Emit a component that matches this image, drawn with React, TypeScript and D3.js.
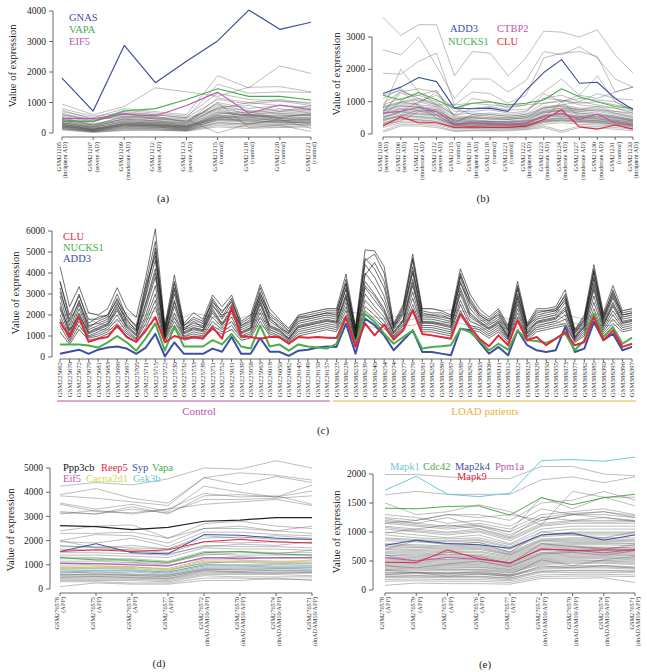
import React from 'react';
import * as d3 from 'd3';

const SERIF = '"Liberation Serif","Times New Roman","DejaVu Serif",serif';
const BLUE = '#3d4f9f';
const GREEN = '#4aae4a';
const MAGENTA = '#c055b0';
const RED = '#e0283a';
const CYAN = '#6cc8d8';
const YELLOW = '#d8d450';

// ---------------- Panel (a)
const aSamples = ['GSM21205', 'GSM21207', 'GSM21209', 'GSM21212', 'GSM21213', 'GSM21215', 'GSM21218', 'GSM21220', 'GSM21221'];
const aGroups = ['(incipient AD)', '(severe AD)', '(moderate AD)', '(severe AD)', '(severe AD)', '(control)', '(control)', '(control)', '(control)'];
const aTicks = [0, 1000, 2000, 3000, 4000];
const aGNAS = [1800, 720, 2870, 1650, 2350, 3020, 4030, 3400, 3630];
const aVAPA = [380, 380, 720, 800, 1100, 1450, 1200, 1200, 1080];
const aEIF5 = [480, 470, 620, 560, 900, 1340, 650, 920, 760];
const aBackground = [
  [950, 600, 870, 1480, 1350, 1200, 1500, 1520, 1350],
  [700, 500, 800, 700, 600, 1880, 1480, 2200, 1950],
  [800, 550, 650, 600, 500, 1600, 1300, 1350, 1330],
  [650, 400, 600, 550, 350, 1150, 1000, 1100, 950],
  [600, 450, 500, 480, 450, 0, 300, 400, 300],
  [500, 300, 450, 400, 300, 1000, 800, 900, 850],
  [450, 250, 400, 380, 250, 850, 900, 700, 900],
  [400, 200, 350, 350, 280, 700, 600, 650, 700],
  [350, 150, 300, 320, 200, 600, 500, 550, 600],
  [300, 100, 250, 250, 150, 550, 450, 500, 500],
  [250, 80, 200, 200, 120, 450, 400, 400, 450],
  [200, 60, 180, 180, 100, 400, 350, 350, 400],
  [180, 50, 150, 150, 90, 350, 300, 300, 350],
  [150, 40, 120, 120, 80, 300, 250, 250, 300],
  [120, 30, 100, 100, 70, 250, 200, 200, 250],
  [280, 120, 330, 280, 220, 500, 600, 420, 480],
  [320, 180, 380, 300, 240, 620, 700, 480, 520],
  [220, 90, 260, 230, 170, 480, 520, 380, 420],
  [160, 70, 230, 190, 140, 420, 440, 330, 360],
  [550, 350, 700, 600, 500, 1100, 950, 1050, 1000],
  [750, 450, 550, 520, 480, 800, 1000, 900, 800],
  [420, 380, 650, 450, 400, 950, 700, 800, 650],
  [380, 220, 420, 350, 320, 750, 550, 600, 600],
  [260, 130, 280, 250, 200, 650, 580, 500, 650],
  [100, 20, 80, 90, 60, 200, 150, 180, 200],
  [500, 250, 550, 500, 400, 900, 600, 700, 750],
  [330, 200, 480, 420, 350, 1000, 180, 250, 50],
  [600, 380, 750, 650, 550, 1300, 1100, 1050, 900],
  [230, 100, 300, 260, 180, 580, 300, 450, 150],
  [450, 280, 520, 470, 380, 780, 650, 750, 780],
  [210, 110, 240, 220, 160, 500, 480, 420, 380],
  [270, 160, 310, 270, 210, 560, 620, 470, 460],
  [340, 190, 360, 330, 260, 680, 560, 580, 560],
  [190, 80, 210, 200, 130, 440, 380, 360, 330],
  [130, 60, 160, 140, 100, 330, 290, 280, 270],
  [400, 260, 450, 400, 330, 820, 740, 640, 620],
  [300, 140, 290, 300, 230, 520, 540, 520, 580],
  [240, 120, 260, 240, 190, 470, 420, 470, 430],
];

// ---------------- Panel (b)
const bSamples = ['GSM21203', 'GSM21206', 'GSM21211', 'GSM21212', 'GSM21215', 'GSM21216', 'GSM21218', 'GSM21221', 'GSM21222', 'GSM21223', 'GSM21224', 'GSM21227', 'GSM21230', 'GSM21231', 'GSM21233'];
const bGroups = ['(severe AD)', '(severe AD)', '(moderate AD)', '(severe AD)', '(control)', '(incipient AD)', '(control)', '(control)', '(incipient AD)', '(moderate AD)', '(moderate AD)', '(moderate AD)', '(moderate AD)', '(control)', '(incipient AD)'];
const bTicks = [0, 1000, 2000, 3000];
const bADD3 = [1250, 1450, 1750, 1620, 800, 780, 800, 700, 1350, 1900, 2300, 1570, 1600, 1100, 760];
const bNUCKS1 = [1200, 1050, 1280, 1050, 800, 950, 1000, 900, 950, 1050, 1400, 1150, 1000, 850, 780];
const bCTBP2 = [650, 700, 830, 700, 300, 350, 320, 300, 320, 550, 650, 450, 620, 350, 280];
const bCLU = [250, 530, 350, 350, 200, 220, 200, 200, 250, 450, 750, 220, 150, 280, 150];
const bBackground = [
  [3600, 3050, 3380, 3380, 1800, 2550, 2500, 1800, 2350, 3180, 3150, 3000, 3220, 2450, 1880],
  [2600, 2450, 3000, 2100, 1100, 1700, 1700, 1300, 1650, 2550, 2450, 2700, 2350, 1700, 1450],
  [1880, 1850, 2250, 2500, 900, 1300, 1250, 950, 1200, 2350, 2500, 2550, 2400, 1300, 1450],
  [800, 2000, 1300, 900, 600, 1100, 1000, 800, 900, 1300, 1700, 1200, 1800, 1000, 700],
  [1100, 1400, 1000, 1200, 800, 600, 650, 600, 650, 1250, 1000, 1200, 1100, 1300, 1450],
  [950, 1300, 1400, 1300, 700, 700, 750, 650, 700, 1100, 1200, 1000, 900, 800, 650],
  [900, 1100, 1200, 1000, 600, 650, 600, 550, 600, 950, 1050, 900, 850, 700, 600],
  [850, 1000, 1100, 950, 550, 550, 500, 500, 550, 850, 900, 800, 800, 650, 550],
  [800, 950, 950, 1300, 500, 500, 450, 450, 500, 800, 850, 750, 700, 600, 500],
  [750, 900, 900, 850, 450, 450, 400, 400, 450, 750, 800, 700, 650, 550, 450],
  [700, 850, 850, 800, 400, 400, 380, 380, 400, 700, 750, 650, 600, 500, 420],
  [650, 800, 800, 750, 380, 380, 350, 350, 380, 650, 700, 600, 550, 480, 400],
  [600, 750, 750, 700, 350, 350, 330, 320, 350, 600, 650, 550, 520, 450, 380],
  [550, 700, 700, 650, 330, 330, 300, 300, 330, 550, 600, 520, 480, 420, 350],
  [500, 650, 650, 600, 300, 300, 280, 280, 300, 500, 550, 480, 450, 400, 330],
  [450, 600, 600, 550, 280, 280, 260, 260, 280, 450, 500, 450, 420, 380, 300],
  [400, 550, 550, 500, 250, 250, 240, 240, 260, 420, 480, 420, 400, 350, 280],
  [350, 500, 500, 450, 220, 230, 220, 220, 240, 400, 450, 400, 380, 330, 260],
  [300, 450, 450, 400, 200, 200, 200, 200, 220, 380, 420, 380, 350, 300, 240],
  [250, 400, 400, 350, 180, 180, 180, 180, 200, 350, 400, 350, 320, 280, 220],
  [200, 350, 350, 300, 150, 160, 150, 160, 180, 300, 350, 300, 280, 250, 200],
  [100, 300, 300, 250, 100, 120, 120, 130, 150, 250, 100, 250, 230, 200, 150],
  [1200, 1350, 1100, 900, 900, 950, 900, 850, 900, 950, 1000, 1100, 1050, 1000, 750],
  [700, 1250, 1200, 1350, 550, 800, 850, 750, 750, 1100, 1050, 950, 1000, 900, 800],
  [600, 1000, 900, 600, 450, 550, 600, 550, 600, 800, 900, 1000, 1250, 1100, 1050],
  [500, 700, 1000, 850, 350, 600, 550, 500, 550, 700, 800, 750, 850, 800, 700],
  [450, 550, 750, 700, 400, 500, 500, 450, 500, 650, 750, 700, 750, 700, 650],
  [300, 400, 700, 600, 250, 350, 350, 300, 350, 550, 600, 500, 550, 500, 400],
  [650, 1350, 850, 500, 300, 400, 380, 350, 400, 500, 1000, 550, 600, 550, 450],
  [50, 250, 250, 200, 80, 100, 100, 100, 130, 200, 50, 200, 180, 150, 100],
  [620, 780, 720, 680, 320, 340, 310, 300, 340, 580, 620, 540, 500, 430, 360],
  [520, 680, 620, 580, 290, 310, 290, 280, 310, 520, 560, 500, 470, 390, 310],
  [420, 580, 530, 480, 260, 270, 250, 250, 270, 440, 500, 440, 410, 360, 290],
  [330, 480, 430, 380, 210, 220, 210, 210, 230, 390, 430, 390, 360, 310, 250],
  [720, 880, 820, 760, 410, 420, 390, 380, 420, 680, 720, 640, 600, 520, 430],
  [820, 980, 1050, 900, 480, 500, 470, 460, 500, 800, 860, 760, 740, 640, 520],
];

// ---------------- Panel (c)
const cControl = ['GSM225662', 'GSM225670', 'GSM225672', 'GSM225679', 'GSM225681', 'GSM225683', 'GSM225696', 'GSM225697', 'GSM225705', 'GSM225711', 'GSM225715', 'GSM225722', 'GSM225730', 'GSM225732', 'GSM225733', 'GSM225739', 'GSM225751', 'GSM225752', 'GSM225931', 'GSM225939', 'GSM225958', 'GSM225963', 'GSM226018', 'GSM226050', 'GSM226082', 'GSM226145', 'GSM226149', 'GSM226150', 'GSM226157'];
const cLoad = ['GSM388225', 'GSM388228', 'GSM388233', 'GSM388239', 'GSM388240', 'GSM388254', 'GSM388274', 'GSM388277', 'GSM388279', 'GSM388281', 'GSM388282', 'GSM388286', 'GSM388287', 'GSM388289', 'GSM388292', 'GSM388303', 'GSM388306', 'GSM388311', 'GSM388312', 'GSM388322', 'GSM388323', 'GSM388329', 'GSM388350', 'GSM388355', 'GSM388373', 'GSM388377', 'GSM388382', 'GSM388385', 'GSM388390', 'GSM388395', 'GSM388396', 'GSM388397'];
const cTicks = [0, 1000, 2000, 3000, 4000, 5000, 6000];
const cCLU = [
  1670, 950, 1900, 720, 870, 950, 1500, 950, 720, 1250, 1900, 700, 1000, 870, 950, 870, 1420, 870, 2400, 1000, 950, 870, 950, 950, 630, 950, 920, 950, 920,
  900, 1900, 480, 1600, 1030, 1550, 830, 1270, 2220, 1100, 1030, 950, 870, 2060, 1430, 870, 510, 1030, 560, 1750, 800, 950, 560, 870, 1190, 560, 710, 1900, 800, 1270, 480, 630,
];
const cNUCKS1 = [
  600, 600, 600, 550, 450, 700, 1000, 700, 300, 900, 1600, 300, 1450, 500, 500, 500, 800, 600, 1100, 500, 400, 1500, 500, 600, 300, 600, 500, 450, 400,
  630, 1900, 560, 2060, 1670, 1110, 630, 950, 1270, 400, 480, 510, 560, 1350, 1190, 800, 320, 630, 350, 1270, 800, 760, 670, 870, 1110, 320, 800, 2060, 950, 1430, 630, 920,
];
const cADD3 = [
  150, 250, 350, 150, 350, 450, 500, 400, 150, 450, 1100, 30, 700, 150, 150, 150, 400, 250, 950, 150, 150, 900, 250, 250, 50, 300, 350, 450, 500,
  480, 1590, 160, 1830, 1510, 1030, 320, 800, 1270, 240, 240, 160, 80, 1350, 1270, 710, 160, 480, 80, 1270, 560, 320, 240, 320, 1430, 240, 400, 1670, 800, 1110, 320, 480,
];
const cSpiky = [
  [4300, 2400, 3350, 2100, 2000, 2300, 3300, 2300, 1900, 3800, 6100, 1500, 3900, 1600, 2100, 1800, 2950, 2400, 2950, 1700, 2000, 3450, 2300, 1800, 1350, 2000, 2100, 2200, 2300,
    2300, 3950, 1450, 5100, 5050, 4300, 1600, 2500, 4900, 2300, 2300, 2200, 2000, 4200, 3000, 2300, 1900, 2300, 1500, 3600, 1600, 2300, 2300, 2400, 3200, 1300, 2000, 4400, 2100, 3400, 2200, 2300],
  [3600, 2000, 2900, 1800, 1800, 2000, 2700, 2000, 1400, 3000, 5200, 1400, 3600, 1500, 1900, 1700, 2600, 2200, 2600, 1600, 1900, 3000, 2100, 1700, 1250, 1900, 2000, 2100, 2200,
    2200, 3500, 1350, 4600, 4900, 4000, 1500, 2400, 4700, 2200, 2100, 2100, 1900, 3900, 2800, 2100, 1800, 2200, 1400, 3300, 1500, 2200, 2200, 2300, 2900, 1250, 1900, 4100, 2000, 3100, 2100, 2200],
  [3600, 1800, 3000, 1600, 1900, 2000, 3000, 1900, 1500, 3500, 5500, 1300, 3500, 1500, 1800, 1600, 2800, 2100, 2800, 1500, 1800, 3300, 2000, 1600, 1200, 1900, 1900, 2000, 2100,
    2100, 3700, 1300, 4700, 4200, 3300, 1500, 2300, 4600, 2100, 2000, 1900, 1800, 4000, 2700, 2000, 1700, 2100, 1300, 3400, 1500, 2100, 2200, 2200, 3000, 1200, 1800, 4200, 1900, 3200, 2000, 2100],
  [3300, 1500, 2700, 1400, 1700, 1900, 2800, 1700, 1300, 3200, 5000, 1200, 3300, 1400, 1600, 1500, 2700, 1900, 2700, 1400, 1600, 3100, 1800, 1500, 1100, 1700, 1800, 1900, 2000,
    1900, 3500, 1200, 4400, 3800, 2900, 1400, 2100, 4300, 1900, 1900, 1800, 1700, 3800, 2500, 1900, 1600, 1900, 1200, 3200, 1400, 1900, 2000, 2100, 2800, 1100, 1700, 4000, 1800, 3000, 1900, 2000],
  [2900, 1300, 2500, 1300, 1500, 1700, 2600, 1600, 1200, 2900, 4600, 1100, 3000, 1300, 1500, 1400, 2500, 1800, 2500, 1300, 1500, 2900, 1700, 1400, 1000, 1600, 1700, 1800, 1900,
    1800, 3300, 1100, 4000, 3400, 2600, 1300, 2000, 4000, 1800, 1800, 1700, 1600, 3600, 2300, 1800, 1500, 1800, 1100, 3000, 1300, 1800, 1900, 2000, 2600, 1000, 1600, 3800, 1700, 2800, 1800, 1900],
  [2600, 1100, 2300, 1200, 1400, 1600, 2400, 1500, 1100, 2600, 4200, 1000, 2700, 1200, 1400, 1300, 2300, 1600, 2300, 1200, 1400, 2700, 1500, 1300, 900, 1500, 1600, 1700, 1800,
    1700, 3000, 1000, 3600, 3000, 2300, 1200, 1800, 3700, 1700, 1700, 1600, 1500, 3300, 2100, 1700, 1400, 1700, 1000, 2800, 1200, 1700, 1800, 1900, 2400, 950, 1500, 3500, 1600, 2600, 1700, 1800],
  [2300, 1000, 2100, 1100, 1300, 1500, 2200, 1400, 1000, 2300, 3800, 950, 2400, 1100, 1300, 1200, 2100, 1500, 2100, 1100, 1300, 2500, 1400, 1200, 850, 1400, 1500, 1600, 1700,
    1600, 2800, 950, 3300, 2700, 2100, 1100, 1700, 3400, 1600, 1600, 1500, 1400, 3000, 1900, 1600, 1300, 1600, 950, 2500, 1100, 1600, 1700, 1800, 2200, 900, 1400, 3200, 1500, 2400, 1600, 1700],
  [2000, 900, 1900, 1000, 1200, 1400, 2000, 1300, 900, 2000, 3400, 900, 2100, 1000, 1200, 1100, 1900, 1400, 1900, 1000, 1200, 2300, 1300, 1100, 800, 1300, 1400, 1500, 1600,
    1500, 2600, 900, 3000, 2400, 1900, 1000, 1600, 3100, 1500, 1500, 1400, 1300, 2700, 1700, 1500, 1200, 1500, 900, 2300, 1000, 1500, 1600, 1700, 2000, 850, 1300, 2900, 1400, 2200, 1500, 1600],
  [1800, 800, 1700, 950, 1100, 1300, 1800, 1200, 850, 1800, 3000, 850, 1900, 950, 1100, 1000, 1700, 1300, 1700, 950, 1100, 2100, 1200, 1000, 750, 1200, 1300, 1400, 1500,
    1400, 2400, 850, 2700, 2200, 1700, 950, 1500, 2800, 1400, 1400, 1300, 1200, 2500, 1500, 1400, 1100, 1400, 850, 2100, 950, 1400, 1500, 1600, 1800, 800, 1200, 2600, 1300, 2000, 1400, 1500],
  [1500, 700, 1500, 900, 1000, 1200, 1600, 1100, 800, 1600, 2700, 800, 1700, 900, 1000, 950, 1500, 1200, 1500, 900, 1000, 1900, 1100, 950, 700, 1100, 1200, 1300, 1400,
    1300, 2200, 800, 2400, 2000, 1500, 900, 1400, 2500, 1300, 1300, 1200, 1100, 2200, 1400, 1300, 1000, 1300, 800, 1900, 900, 1300, 1400, 1500, 1600, 750, 1100, 2300, 1200, 1800, 1300, 1400],
  [1200, 600, 1300, 800, 900, 1100, 1400, 1000, 700, 1400, 2400, 700, 1500, 800, 900, 900, 1300, 1100, 1300, 800, 900, 1700, 1000, 900, 650, 1000, 1100, 1200, 1300,
    1200, 2000, 700, 2200, 1800, 1400, 800, 1300, 2300, 1200, 1200, 1100, 1000, 2000, 1300, 1200, 900, 1200, 700, 1700, 800, 1200, 1300, 1400, 1500, 700, 1000, 2100, 1100, 1600, 1200, 1300],
  [3100, 1700, 2600, 1500, 1600, 1800, 2500, 1800, 1250, 3400, 4800, 1250, 3200, 1300, 1700, 1400, 2400, 2000, 2200, 1500, 1700, 2800, 1900, 1400, 1150, 1800, 1900, 2000, 2100,
    2000, 3200, 1250, 3900, 4500, 3600, 1400, 2200, 4100, 2000, 2000, 2000, 1800, 3500, 2600, 2000, 1700, 2000, 1300, 2900, 1450, 2000, 2100, 2200, 2700, 1150, 1750, 3700, 1850, 2900, 2000, 2100],
  [2400, 1250, 2000, 1150, 1350, 1550, 2300, 1450, 1050, 2500, 4000, 1050, 2600, 1150, 1350, 1250, 2200, 1550, 2200, 1150, 1350, 2600, 1450, 1250, 880, 1450, 1550, 1650, 1750,
    1650, 2900, 980, 3400, 2900, 2200, 1150, 1750, 3550, 1650, 1650, 1550, 1450, 3150, 2000, 1650, 1350, 1650, 980, 2650, 1150, 1650, 1750, 1850, 2300, 920, 1450, 3350, 1550, 2500, 1650, 1750],
];
const cFlat = [
  [2000, 2000, 2000, 2100, 2000, 1900, 2000, 2100, 1900, 2000, 2200, 1800, 2000, 1900, 2100, 2000, 1900, 1950, 1900, 1850, 2000, 2100, 1900, 1700, 1400, 1950, 2100, 2200, 2300,
    2300, 2200, 2100, 2000, 1900, 1800, 1900, 2000, 2100, 2300, 2300, 2200, 2250, 2200, 2100, 1700, 1800, 2000, 1800, 1900, 1600, 1800, 2200, 2300, 2000, 1900, 1800, 2000, 2100, 2000, 2200, 2300],
  [1600, 1700, 1500, 1800, 1600, 1500, 1700, 1800, 1500, 1800, 1900, 1500, 1800, 1500, 1700, 1600, 1500, 1700, 1600, 1400, 1700, 1800, 1600, 1300, 1100, 1700, 1800, 1900, 2000,
    2000, 1800, 1700, 1800, 1600, 1500, 1600, 1700, 1800, 2000, 1900, 1900, 2000, 1900, 1800, 1500, 1600, 1700, 1500, 1600, 1300, 1600, 1900, 2000, 1800, 1600, 1500, 1700, 1800, 1700, 1900, 2000],
  [1300, 1400, 1300, 1500, 1300, 1300, 1400, 1500, 1300, 1500, 1600, 1300, 1500, 1300, 1400, 1300, 1300, 1400, 1300, 1200, 1400, 1500, 1300, 1100, 900, 1400, 1500, 1600, 1700,
    1700, 1500, 1400, 1500, 1400, 1300, 1400, 1500, 1500, 1700, 1600, 1600, 1700, 1600, 1500, 1300, 1400, 1500, 1300, 1400, 1100, 1400, 1600, 1700, 1500, 1400, 1300, 1500, 1500, 1500, 1600, 1700],
];

// ---------------- Panel (d)
const dSamples = ['GSM276578', 'GSM276575', 'GSM276576', 'GSM276577', 'GSM276572', 'GSM276570', 'GSM276574', 'GSM276571'];
const dGroups = ['(APP)', '(APP)', '(APP)', '(APP)', '(dnADAM10/APP)', '(dnADAM10/APP)', '(dnADAM10/APP)', '(dnADAM10/APP)'];
const dTicks = [0, 1000, 2000, 3000, 4000, 5000];
const dPpp3cb = [2620, 2580, 2450, 2550, 2800, 2850, 2950, 2950];
const dReep5 = [1550, 1620, 1550, 1620, 1950, 2050, 1950, 1900];
const dSyp = [1550, 1870, 1500, 1450, 2250, 2220, 2100, 2050];
const dVapa = [1300, 1200, 1200, 1100, 1500, 1550, 1450, 1400];
const dEif5 = [1050, 1050, 1000, 950, 1300, 1250, 1300, 1300];
const dCacna2d1 = [850, 900, 900, 800, 1150, 1100, 1100, 1200];
const dGsk3b = [700, 750, 750, 650, 950, 950, 900, 900];
const dBackground = [
  [4250, 4400, 4300, 4550, 5000, 4950, 5300, 5000],
  [3900, 4150, 3750, 3550, 4600, 4800, 4700, 4500],
  [3850, 3750, 3600, 3450, 4600, 4300, 4650, 4400],
  [3550, 3300, 3500, 3200, 4250, 4000, 3800, 4050],
  [3500, 3200, 3150, 3300, 3950, 3800, 3850, 3500],
  [3200, 3100, 3400, 3100, 3850, 3900, 3800, 4300],
  [3150, 3100, 3300, 3150, 3700, 3700, 3750, 3850],
  [3100, 3250, 3100, 3300, 3500, 3600, 3700, 3450],
  [2400, 2600, 2650, 2100, 2500, 2600, 2400, 2600],
  [2300, 2300, 2350, 2100, 2700, 2800, 2600, 2500],
  [2000, 2250, 2200, 1900, 2500, 2500, 2400, 2300],
  [1950, 1900, 2100, 1750, 2350, 2350, 2250, 2200],
  [1750, 1750, 1700, 1650, 2100, 2150, 2050, 2050],
  [1650, 1600, 1650, 1500, 1950, 1900, 1950, 1900],
  [1500, 1500, 1450, 1400, 1800, 1750, 1750, 1700],
  [1400, 1400, 1350, 1300, 1700, 1650, 1650, 1600],
  [1250, 1250, 1250, 1150, 1550, 1550, 1500, 1500],
  [1150, 1150, 1100, 1050, 1450, 1400, 1400, 1400],
  [1050, 1000, 1000, 950, 1300, 1300, 1300, 1250],
  [950, 950, 900, 850, 1200, 1200, 1150, 1150],
  [850, 850, 850, 750, 1100, 1100, 1050, 1050],
  [750, 750, 750, 700, 1000, 1000, 950, 950],
  [700, 650, 700, 600, 900, 900, 900, 900],
  [600, 600, 600, 550, 850, 850, 850, 800],
  [550, 550, 550, 500, 800, 800, 750, 750],
  [500, 500, 500, 450, 750, 700, 700, 700],
  [450, 450, 450, 400, 650, 650, 650, 650],
  [400, 400, 400, 350, 600, 600, 600, 550],
  [350, 350, 350, 300, 550, 500, 500, 500],
  [100, 250, 200, 200, 350, 350, 450, 350],
  [300, 300, 250, 250, 450, 450, 400, 400],
  [650, 700, 620, 580, 820, 780, 830, 860],
  [800, 780, 800, 700, 1000, 980, 1020, 980],
  [1320, 1300, 1150, 1100, 1400, 1500, 1450, 1600],
  [1800, 1700, 1600, 1450, 1750, 1850, 1800, 1950],
  [2000, 1700, 1800, 1650, 2200, 2100, 2200, 2100],
  [580, 620, 560, 520, 760, 720, 780, 740],
  [480, 520, 470, 430, 700, 680, 660, 690],
  [900, 880, 920, 800, 1050, 1150, 1100, 1080],
  [1100, 1050, 1080, 980, 1250, 1350, 1250, 1320],
];

// ---------------- Panel (e)
const eSamples = ['GSM276578', 'GSM276579', 'GSM276575', 'GSM276576', 'GSM276577', 'GSM276572', 'GSM276570', 'GSM276574', 'GSM276571'];
const eGroups = ['(APP)', '(APP)', '(APP)', '(APP)', '(APP)', '(dnADAM10/APP)', '(dnADAM10/APP)', '(dnADAM10/APP)', '(dnADAM10/APP)'];
const eTicks = [0, 500, 1000, 1500, 2000];
const eMapk1 = [1720, 1960, 1650, 1610, 1670, 2230, 2250, 2220, 2290];
const eCdc42 = [1410, 1400, 1440, 1450, 1290, 1590, 1470, 1590, 1650];
const eMap2k4 = [770, 860, 800, 780, 720, 950, 980, 860, 950];
const ePpm1a = [560, 500, 560, 530, 470, 700, 690, 640, 700];
const eMapk9 = [480, 470, 690, 540, 460, 710, 680, 690, 690];
const eBackground = [
  [1990, 1990, 1950, 1920, 1920, 2130, 2130, 2000, 1970],
  [1640, 1700, 1650, 1650, 1650, 1900, 1950, 1850, 1950],
  [1500, 1300, 1350, 1470, 1350, 1120, 1700, 1600, 1450],
  [1250, 1200, 1300, 1300, 1200, 1500, 1550, 1700, 1550],
  [1230, 1150, 1250, 1100, 1000, 1600, 1400, 1600, 1600],
  [1200, 1150, 1100, 1150, 1050, 1300, 1350, 1400, 1300],
  [1150, 1100, 1050, 1100, 950, 1200, 1300, 1300, 1250],
  [1100, 1050, 1000, 1050, 900, 1150, 1200, 1200, 1200],
  [1050, 1000, 950, 1000, 850, 1100, 1150, 1150, 1150],
  [1000, 950, 900, 950, 800, 1050, 1100, 1100, 1100],
  [950, 900, 880, 900, 780, 1000, 1050, 1050, 1050],
  [900, 870, 850, 870, 750, 950, 1000, 1000, 1000],
  [850, 830, 800, 820, 700, 920, 950, 950, 950],
  [800, 780, 760, 780, 660, 880, 900, 900, 900],
  [750, 740, 720, 740, 620, 850, 860, 860, 850],
  [700, 700, 680, 700, 600, 800, 820, 820, 800],
  [650, 660, 640, 650, 560, 760, 780, 780, 760],
  [600, 620, 600, 600, 520, 720, 740, 740, 720],
  [560, 580, 560, 560, 480, 680, 700, 700, 680],
  [520, 540, 520, 520, 450, 640, 660, 660, 640],
  [480, 500, 480, 480, 420, 600, 620, 620, 600],
  [440, 460, 440, 440, 380, 560, 580, 580, 560],
  [400, 420, 400, 400, 350, 520, 540, 540, 520],
  [360, 380, 360, 360, 320, 480, 500, 500, 480],
  [330, 340, 330, 330, 290, 440, 460, 460, 440],
  [300, 310, 300, 300, 260, 400, 420, 420, 400],
  [270, 280, 270, 270, 240, 360, 380, 380, 360],
  [240, 250, 240, 240, 210, 330, 340, 340, 330],
  [210, 220, 210, 210, 180, 300, 300, 300, 300],
  [180, 190, 180, 180, 160, 260, 270, 270, 260],
  [150, 160, 150, 150, 130, 230, 240, 240, 230],
  [80, 120, 110, 110, 100, 200, 200, 210, 130],
  [1300, 1250, 1150, 1200, 1100, 1400, 1300, 1350, 1250],
  [1150, 1200, 1300, 1250, 1300, 1200, 1300, 1250, 1200],
  [980, 1050, 1120, 1060, 920, 1250, 1200, 1250, 1180],
  [700, 850, 780, 820, 650, 1000, 950, 900, 1000],
  [600, 500, 650, 580, 450, 800, 750, 700, 780],
  [420, 380, 450, 500, 400, 620, 650, 600, 680],
  [340, 300, 280, 320, 260, 520, 420, 520, 580],
  [260, 300, 240, 280, 230, 420, 380, 420, 380],
  [630, 640, 610, 620, 540, 740, 760, 720, 740],
  [540, 560, 530, 540, 470, 650, 670, 680, 660],
  [460, 480, 460, 460, 400, 580, 600, 600, 590],
  [380, 400, 380, 390, 330, 500, 520, 510, 500],
  [720, 730, 700, 720, 610, 830, 840, 840, 830],
  [670, 680, 660, 670, 580, 780, 800, 800, 790],
  [590, 600, 580, 580, 500, 700, 720, 720, 700],
  [500, 520, 500, 500, 430, 620, 640, 640, 620],
  [420, 440, 420, 420, 360, 540, 560, 560, 540],
  [350, 360, 350, 350, 300, 460, 480, 480, 460],
  [290, 300, 290, 290, 250, 380, 400, 400, 380],
  [230, 240, 230, 230, 200, 320, 330, 330, 320],
  [880, 850, 830, 850, 730, 940, 980, 980, 980],
  [780, 760, 740, 760, 640, 860, 880, 880, 870],
  [1080, 1020, 980, 1020, 880, 1120, 1180, 1170, 1180],
  [1180, 1120, 1080, 1120, 1000, 1250, 1320, 1350, 1280],
];

type Hi = { values: number[]; color: string; width: number };
type BgGroup = { lines: number[][]; color: string; opacity: number; width: number };
type Leg = { text: string; color: string; x: number; y: number };
type PanelCfg = {
  x0: number; x1: number;
  yDomain: [number, number]; yRange: [number, number];
  yTicks: number[];
  yAxisX: number; xAxisY: number;
  labels: string[][]; labelFont: number; labelLh: number; labelTop: number;
  bg: BgGroup[];
  hi: Hi[];
  legend: Leg[]; legendFont: number;
  titleX: number; titleY: number;
  letter: string; letterX: number; letterY: number;
};

function Panel({ cfg }: { cfg: PanelCfg }) {
  const n = cfg.labels.length;
  const x = d3.scaleLinear().domain([0, n - 1]).range([cfg.x0, cfg.x1]);
  const y = d3.scaleLinear().domain(cfg.yDomain).range(cfg.yRange);
  const line = d3.line<number>().x((_, i) => x(i)).y((v) => y(v));
  const yt = cfg.yTicks;
  return (
    <g>
      {cfg.bg.map((g, gi) => (
        <g key={gi} stroke={g.color} strokeOpacity={g.opacity} strokeWidth={g.width} fill="none">
          {g.lines.map((l, i) => <path key={i} d={line(l) || ''} />)}
        </g>
      ))}
      {cfg.hi.map((h, i) => (
        <path key={i} d={line(h.values) || ''} fill="none" stroke={h.color} strokeWidth={h.width} strokeLinejoin="round" />
      ))}
      <g stroke="#444" strokeWidth={0.8}>
        <line x1={cfg.yAxisX} x2={cfg.yAxisX} y1={y(yt[0])} y2={y(yt[yt.length - 1])} />
        {yt.map((t) => <line key={t} x1={cfg.yAxisX - 4} x2={cfg.yAxisX} y1={y(t)} y2={y(t)} />)}
      </g>
      {yt.map((t) => (
        <text key={t} x={cfg.yAxisX - 7} y={y(t)} dy="0.33em" textAnchor="end" fontSize={9.5} fill="#222" fontFamily={SERIF}>{t}</text>
      ))}
      <text transform={`translate(${cfg.titleX},${cfg.titleY}) rotate(-90)`} textAnchor="middle" dy="0.33em" fontSize={10.5} fill="#222" fontFamily={SERIF}>Value of expression</text>
      <g stroke="#444" strokeWidth={0.8}>
        <line x1={x(0)} x2={x(n - 1)} y1={cfg.xAxisY} y2={cfg.xAxisY} />
        {cfg.labels.map((_, i) => <line key={i} x1={x(i)} x2={x(i)} y1={cfg.xAxisY} y2={cfg.xAxisY + 3} />)}
      </g>
      {cfg.labels.map((ls, i) => (
        <g key={i}>
          {ls.map((s, k) => {
            const off = (k - (ls.length - 1) / 2) * cfg.labelLh + 0.35 * cfg.labelFont;
            return (
              <text key={k} transform={`translate(${x(i) + off},${cfg.labelTop}) rotate(-90)`} textAnchor="end" fontSize={cfg.labelFont} fill="#333" fontFamily={SERIF}>{s}</text>
            );
          })}
        </g>
      ))}
      {cfg.legend.map((l, i) => (
        <text key={i} x={l.x} y={l.y} fontSize={cfg.legendFont} fill={l.color} fontFamily={SERIF}>{l.text}</text>
      ))}
      <text x={cfg.letterX} y={cfg.letterY} textAnchor="middle" fontSize={11} fill="#222" fontFamily={SERIF}>{cfg.letter}</text>
    </g>
  );
}

export default function App() {
  const grayBg = (lines: number[][]): BgGroup => ({ lines, color: '#555', opacity: 0.55, width: 0.7 });
  const panels: PanelCfg[] = [
    {
      x0: 62, x1: 311, yDomain: [0, 4000], yRange: [133, 11], yTicks: aTicks, yAxisX: 53, xAxisY: 137,
      labels: aSamples.map((s, i) => [s, aGroups[i]]), labelFont: 6.3, labelLh: 6.5, labelTop: 142,
      bg: [grayBg(aBackground)],
      hi: [
        { values: aVAPA, color: GREEN, width: 1.1 },
        { values: aEIF5, color: MAGENTA, width: 1.1 },
        { values: aGNAS, color: BLUE, width: 1.2 },
      ],
      legend: [
        { text: 'GNAS', color: BLUE, x: 69, y: 21 },
        { text: 'VAPA', color: GREEN, x: 69, y: 33 },
        { text: 'EIF5', color: MAGENTA, x: 69, y: 45 },
      ],
      legendFont: 10.5, titleX: 13, titleY: 66, letter: '(a)', letterX: 163, letterY: 202,
    },
    {
      x0: 383, x1: 633, yDomain: [0, 3000], yRange: [134, 37], yTicks: bTicks, yAxisX: 372, xAxisY: 137,
      labels: bSamples.map((s, i) => [s, bGroups[i]]), labelFont: 6.3, labelLh: 6.5, labelTop: 142,
      bg: [grayBg(bBackground)],
      hi: [
        { values: bCLU, color: RED, width: 1.1 },
        { values: bCTBP2, color: MAGENTA, width: 1.1 },
        { values: bNUCKS1, color: GREEN, width: 1.1 },
        { values: bADD3, color: BLUE, width: 1.1 },
      ],
      legend: [
        { text: 'ADD3', color: BLUE, x: 450, y: 32 },
        { text: 'CTBP2', color: MAGENTA, x: 497, y: 32 },
        { text: 'NUCKS1', color: GREEN, x: 448, y: 45 },
        { text: 'CLU', color: RED, x: 497, y: 45 },
      ],
      legendFont: 10.5, titleX: 337, titleY: 74, letter: '(b)', letterX: 483, letterY: 202,
    },
    {
      x0: 60, x1: 632, yDomain: [0, 6000], yRange: [357, 231], yTicks: cTicks, yAxisX: 52, xAxisY: 359,
      labels: [...cControl, ...cLoad].map((s) => [s]), labelFont: 6.8, labelLh: 7, labelTop: 362,
      bg: [
        { lines: cFlat, color: '#888', opacity: 0.8, width: 0.6 },
        { lines: cSpiky, color: '#111', opacity: 0.85, width: 0.7 },
      ],
      hi: [
        { values: cADD3, color: BLUE, width: 2 },
        { values: cNUCKS1, color: GREEN, width: 2 },
        { values: cCLU, color: RED, width: 2 },
      ],
      legend: [
        { text: 'CLU', color: RED, x: 63, y: 240 },
        { text: 'NUCKS1', color: GREEN, x: 63, y: 251 },
        { text: 'ADD3', color: BLUE, x: 63, y: 262 },
      ],
      legendFont: 10.5, titleX: 16, titleY: 293, letter: '(c)', letterX: 323, letterY: 434,
    },
    {
      x0: 60, x1: 312, yDomain: [0, 5000], yRange: [589, 468], yTicks: dTicks, yAxisX: 50, xAxisY: 593,
      labels: dSamples.map((s, i) => [s, dGroups[i]]), labelFont: 6.3, labelLh: 6.5, labelTop: 597,
      bg: [{ lines: dBackground, color: '#555', opacity: 0.55, width: 0.7 }],
      hi: [
        { values: dGsk3b, color: CYAN, width: 1 },
        { values: dCacna2d1, color: YELLOW, width: 1 },
        { values: dEif5, color: MAGENTA, width: 1 },
        { values: dVapa, color: GREEN, width: 1 },
        { values: dSyp, color: BLUE, width: 1 },
        { values: dReep5, color: RED, width: 1 },
        { values: dPpp3cb, color: '#222', width: 1.2 },
      ],
      legend: [
        { text: 'Ppp3cb', color: '#111', x: 63, y: 471 },
        { text: 'Reep5', color: RED, x: 101, y: 471 },
        { text: 'Syp', color: BLUE, x: 132, y: 471 },
        { text: 'Vapa', color: GREEN, x: 152, y: 471 },
        { text: 'Eif5', color: MAGENTA, x: 63, y: 482 },
        { text: 'Cacna2d1', color: YELLOW, x: 86, y: 482 },
        { text: 'Gsk3b', color: CYAN, x: 133, y: 482 },
      ],
      legendFont: 10.5, titleX: 11, titleY: 530, letter: '(d)', letterX: 159, letterY: 667,
    },
    {
      x0: 385, x1: 635, yDomain: [0, 2000], yRange: [590, 474], yTicks: eTicks, yAxisX: 373, xAxisY: 593,
      labels: eSamples.map((s, i) => [s, eGroups[i]]), labelFont: 6.3, labelLh: 6.5, labelTop: 597,
      bg: [{ lines: eBackground, color: '#333', opacity: 0.55, width: 0.6 }],
      hi: [
        { values: ePpm1a, color: MAGENTA, width: 1 },
        { values: eMapk9, color: RED, width: 1 },
        { values: eMap2k4, color: BLUE, width: 1 },
        { values: eCdc42, color: GREEN, width: 1 },
        { values: eMapk1, color: CYAN, width: 1 },
      ],
      legend: [
        { text: 'Mapk1', color: CYAN, x: 390, y: 470 },
        { text: 'Cdc42', color: GREEN, x: 423, y: 470 },
        { text: 'Map2k4', color: BLUE, x: 455, y: 470 },
        { text: 'Ppm1a', color: MAGENTA, x: 495, y: 470 },
        { text: 'Mapk9', color: RED, x: 457, y: 480 },
      ],
      legendFont: 10.5, titleX: 337, titleY: 532, letter: '(e)', letterX: 485, letterY: 668,
    },
  ];
  return (
    <svg width={647} height={672} viewBox="0 0 647 672" style={{ position: 'absolute', left: 0, top: 0, background: '#fff' }}>
      <rect x={0} y={0} width={647} height={672} fill="#fff" />
      {panels.map((p, i) => <Panel key={i} cfg={p} />)}
      <line x1={57} x2={330} y1={401} y2={401} stroke="#b452a9" strokeWidth={1} />
      <text x={199} y={415} textAnchor="middle" fontSize={11} fill="#b452a9" fontFamily={SERIF}>Control</text>
      <line x1={333} x2={636} y1={401} y2={401} stroke="#e6b43c" strokeWidth={1} />
      <text x={485} y={415} textAnchor="middle" fontSize={11} fill="#e6b43c" fontFamily={SERIF}>LOAD patients</text>
    </svg>
  );
}
